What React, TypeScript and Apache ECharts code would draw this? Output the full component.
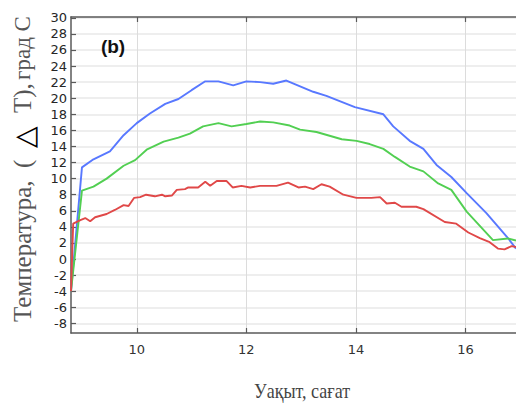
import React, { useEffect, useRef } from "react";
import * as echarts from "echarts";

// Time (hours) and temperature rise values
const blueHours = [8.8, 9.0, 9.21, 9.51, 9.76, 10.0, 10.24, 10.52, 10.76, 11.0, 11.25, 11.49, 11.76, 12.0, 12.25, 12.49, 12.73, 13.22, 13.46, 13.98, 14.5, 14.68, 14.98, 15.23, 15.47, 15.74, 16.02, 16.38, 16.75, 16.92];
const blueValues = [-4, 11.4, 12.4, 13.4, 15.4, 16.9, 18.1, 19.3, 19.9, 21.0, 22.1, 22.1, 21.6, 22.1, 22.0, 21.8, 22.2, 20.8, 20.3, 18.9, 18.0, 16.5, 14.7, 13.7, 11.7, 10.2, 8.2, 5.7, 2.8, 1.3];

const greenHours = [8.8, 9.0, 9.21, 9.45, 9.76, 9.97, 10.18, 10.49, 10.76, 10.97, 11.21, 11.49, 11.73, 12.0, 12.25, 12.49, 12.79, 12.98, 13.28, 13.74, 14.01, 14.25, 14.5, 14.71, 14.98, 15.23, 15.5, 15.74, 16.02, 16.5, 16.77, 16.92];
const greenValues = [-4, 8.5, 9.0, 10.0, 11.6, 12.3, 13.6, 14.6, 15.1, 15.6, 16.5, 16.9, 16.5, 16.8, 17.1, 17.0, 16.6, 16.1, 15.8, 14.9, 14.7, 14.3, 13.7, 12.7, 11.5, 10.9, 9.4, 8.6, 5.9, 2.35, 2.56, 2.3];

const redHours = [8.8, 8.84, 8.97, 9.06, 9.15, 9.24, 9.45, 9.6, 9.76, 9.85, 9.95, 10.06, 10.17, 10.33, 10.46, 10.52, 10.64, 10.73, 10.88, 10.94, 11.12, 11.25, 11.34, 11.46, 11.64, 11.75, 11.91, 12.07, 12.25, 12.55, 12.76, 12.95, 13.07, 13.22, 13.37, 13.52, 13.77, 14.01, 14.28, 14.44, 14.56, 14.71, 14.83, 15.1, 15.23, 15.62, 15.83, 16.05, 16.26, 16.44, 16.59, 16.71, 16.84, 16.92];
const redValues = [-4, 4.4, 4.85, 5.1, 4.7, 5.2, 5.6, 6.1, 6.7, 6.6, 7.6, 7.7, 8.0, 7.8, 8.0, 7.8, 7.9, 8.6, 8.7, 8.9, 8.9, 9.6, 9.1, 9.7, 9.7, 8.9, 9.1, 8.9, 9.1, 9.1, 9.5, 8.9, 9.0, 8.7, 9.3, 9.0, 8.0, 7.6, 7.6, 7.7, 6.9, 7.0, 6.5, 6.5, 6.2, 4.6, 4.4, 3.3, 2.6, 2.1, 1.3, 1.2, 1.6, 1.5];

const xTicks = [10, 12, 14, 16];
const yTicks = [-8, -6, -4, -2, 0, 2, 4, 6, 8, 10, 12, 14, 16, 18, 20, 22, 24, 26, 28, 30];

const xTitle = "Уақыт, сағат";
const yTitleParts = ["Температура,", "(", "△", "T),", "град С"];
const panelLabel = "(b)";

const zip = (a: number[], b: number[]) => a.map((v, i) => [v, b[i]]);

export default function App() {
  const ref = useRef<HTMLDivElement>(null);
  useEffect(() => {
    document.body.style.margin = "0";
    if (!ref.current) return;
    const chart = echarts.init(ref.current, null, { renderer: "svg" });
    const axisColor = "#5a5a5a";
    const serif = "Liberation Serif";
    const yTitleStyle = (text: string, extra: any = {}) => ({
      text,
      fontFamily: serif,
      fontSize: 25,
      fill: "#555",
      align: "left",
      verticalAlign: "middle",
      ...extra,
    });
    chart.setOption({
      animation: false,
      backgroundColor: "#ffffff",
      grid: { left: 71, top: 17, right: 0, bottom: 70, containLabel: false },
      xAxis: [
        {
          type: "value",
          min: 8.8,
          max: 16.92,
          position: "bottom",
          axisLine: { show: true, onZero: false, lineStyle: { color: axisColor, width: 1.5 } },
          axisTick: { show: true, inside: true, length: 5, customValues: xTicks, lineStyle: { color: axisColor, width: 1.2 } },
          axisLabel: { show: true, customValues: xTicks, color: "#333", fontFamily: "DejaVu Sans", fontSize: 13, margin: 10 },
          splitLine: { show: true, lineStyle: { color: "#dcdcdc", width: 1 } },
        },
        {
          type: "value",
          min: 8.8,
          max: 16.92,
          position: "top",
          axisLine: { show: true, onZero: false, lineStyle: { color: axisColor, width: 1.5 } },
          axisTick: { show: true, inside: true, length: 5, customValues: xTicks, lineStyle: { color: axisColor, width: 1.2 } },
          axisLabel: { show: false },
          splitLine: { show: false },
        },
      ],
      yAxis: {
        type: "value",
        min: -9.2,
        max: 30.1,
        axisLine: { show: true, onZero: false, lineStyle: { color: axisColor, width: 1.5 } },
        axisTick: { show: true, inside: true, length: 5, customValues: yTicks, lineStyle: { color: axisColor, width: 1.2 } },
        axisLabel: { show: true, customValues: yTicks, color: "#262626", fontFamily: "DejaVu Sans", fontSize: 13, margin: 4 },
        splitLine: { show: true, lineStyle: { color: "#e8e8e8", width: 1.5 } },
      },
      series: [
        { type: "line", data: zip(blueHours, blueValues), showSymbol: false, lineStyle: { color: "#5878ff", width: 1.9 }, itemStyle: { color: "#5878ff" } },
        { type: "line", data: zip(greenHours, greenValues), showSymbol: false, lineStyle: { color: "#52cf52", width: 1.9 }, itemStyle: { color: "#52cf52" } },
        { type: "line", data: zip(redHours, redValues), showSymbol: false, lineStyle: { color: "#e04848", width: 1.9 }, itemStyle: { color: "#e04848" } },
      ],
      graphic: [
        {
          type: "text",
          x: 113,
          y: 46,
          z: 10,
          style: { text: panelLabel, fontFamily: "Liberation Sans", fontWeight: "bold", fontSize: 19, fill: "#111", align: "center", verticalAlign: "middle" },
        },
        {
          type: "text",
          x: 302,
          y: 390,
          scaleX: 0.82,
          style: { text: xTitle, fontFamily: serif, fontSize: 22, fill: "#444", align: "center", verticalAlign: "middle" },
        },
        { type: "text", x: 22, y: 322, rotation: Math.PI / 2, style: yTitleStyle(yTitleParts[0]) },
        { type: "text", x: 22, y: 168, rotation: Math.PI / 2, style: yTitleStyle(yTitleParts[1]) },
        { type: "text", x: 24, y: 148, rotation: Math.PI / 2, style: yTitleStyle(yTitleParts[2], { fontFamily: "DejaVu Sans", fontSize: 28, fill: "#000" }) },
        { type: "text", x: 22, y: 113, rotation: Math.PI / 2, style: yTitleStyle(yTitleParts[3]) },
        { type: "text", x: 22, y: 80, rotation: Math.PI / 2, style: yTitleStyle(yTitleParts[4], { fontSize: 23 }) },
      ],
    });
    return () => chart.dispose();
  }, []);
  return <div ref={ref} style={{ width: 516, height: 403 }} />;
}
